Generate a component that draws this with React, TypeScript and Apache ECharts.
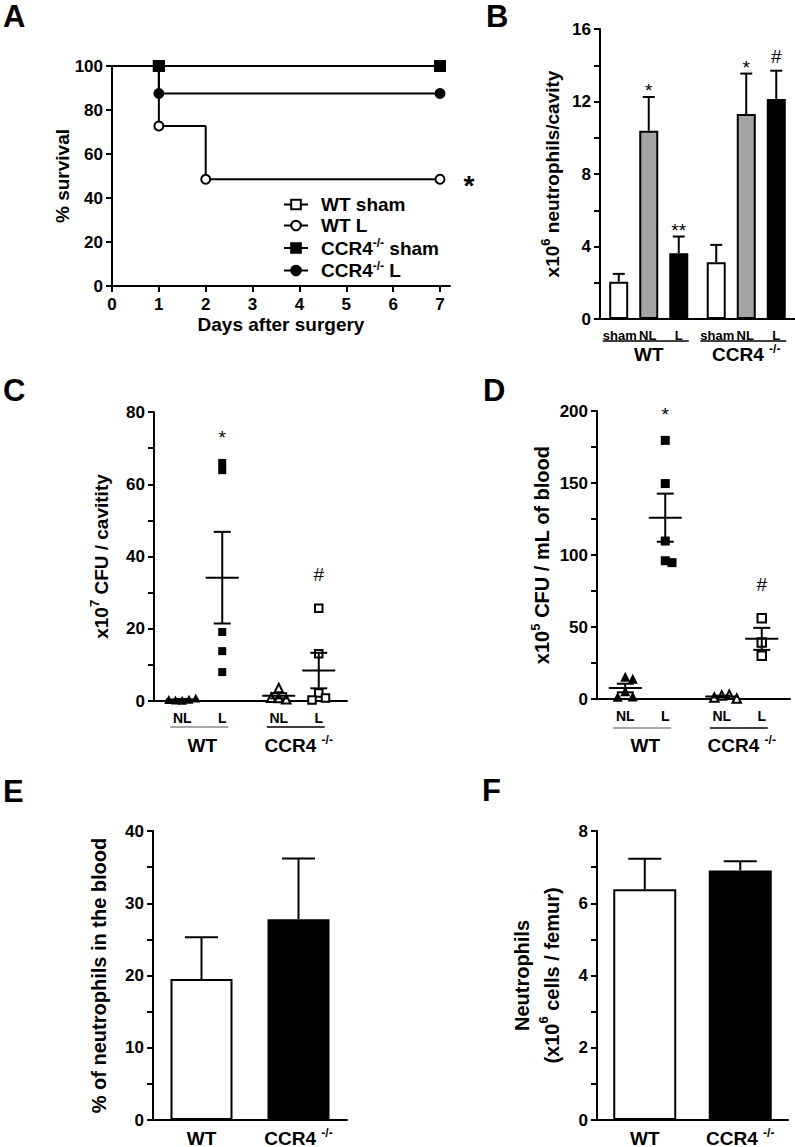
import React, { useEffect, useRef } from "react";
import * as echarts from "echarts";

const W = 795;
const H = 1147;
const FONT = '"Liberation Sans", Arial, Helvetica, sans-serif';

// ---------- Panel A: survival (Kaplan-Meier) ----------
const aWtShamDays = [0, 1, 7];
const aWtShamSurv = [100, 100, 100];
const aWtLDays = [0, 1, 2, 7];
const aWtLSurv = [100, 72.7, 48.5, 48.5];
const aKoShamDays = [0, 1, 7];
const aKoShamSurv = [100, 100, 100];
const aKoLDays = [0, 1, 7];
const aKoLSurv = [100, 87.5, 87.5];
const aDayTicks = [0, 1, 2, 3, 4, 5, 6, 7];

// ---------- Panel B: neutrophils / cavity (x10^6) ----------
const bGroups = ["WT", "CCR4"];
const bSubLabels = ["sham", "NL", "L"];
const bShamMean = [2.06, 3.13];
const bShamSem = [0.43, 0.96];
const bNLMean = [10.39, 11.31];
const bNLSem = [1.86, 2.23];
const bLMean = [3.63, 12.14];
const bLSem = [0.92, 1.56];
const bNLMarks = ["*", "*"];
const bLMarks = ["**", "#"];

// ---------- Panel C: CFU / cavity (x10^7) ----------
const cGroups = ["WT", "CCR4"];
const cWtNL = [0.2, 0.5, 0.3, 0.8, 0.4];
const cWtL = [65.9, 63.9, 19.1, 13.8, 8.0];
const cKoNL = [3.6, 0.8, 0.5, 0.9];
const cKoL = [25.7, 13.1, 2.2, 0.8, 0.3];
const cLMarks = ["*", "#"];

// ---------- Panel D: CFU / mL blood (x10^5) ----------
const dGroups = ["WT", "CCR4"];
const dWtNL = [15.5, 14.0, 5.3, 1.8, 1.5];
const dWtL = [179.6, 149.6, 109.7, 96.0, 94.7];
const dKoNL = [2.5, 3.0, 1.0, 0.3];
const dKoL = [56.1, 39.2, 30.0];
const dLMarks = ["*", "#"];

// ---------- Panel E: % neutrophils in blood ----------
const eGroups = ["WT", "CCR4"];
const eMean = [19.5, 27.8];
const eSem = [5.8, 8.4];

// ---------- Panel F: neutrophils / femur (x10^6) ----------
const fGroups = ["WT", "CCR4"];
const fMean = [6.39, 6.91];
const fSem = [0.84, 0.25];

// ---------- layout ----------
const GA = { left: 112, top: 66, width: 338, height: 220 };
const A_DAY7 = 328;
const GB = { left: 600, top: 29, width: 195, height: 290 };
const GC = { left: 154, top: 412, width: 193, height: 289 };
const GD = { left: 597, top: 411, width: 193, height: 288 };
const GE = { left: 153, top: 831, width: 194, height: 289 };
const GF = { left: 597, top: 831, width: 191, height: 289 };
const B_OFF = 30;
const DOT_OFF = 20;

const mean = (a: number[]) => a.reduce((s, v) => s + v, 0) / a.length;
const sem = (a: number[]) => {
  const m = mean(a);
  return Math.sqrt(a.reduce((s, v) => s + (v - m) * (v - m), 0) / (a.length - 1)) / Math.sqrt(a.length);
};
const catX = (g: any, i: number) => g.left + (g.width * (i + 0.5)) / 2;

const LS = { color: "#000", width: 2 };
const tickFont = { color: "#000", fontFamily: FONT, fontWeight: "bold", fontSize: 17 };
const titleRich = (fs: number) => ({
  t: { color: "#000", fontFamily: FONT, fontWeight: "bold", fontSize: fs, lineHeight: 26 },
  f: { color: "#000", fontFamily: FONT, fontWeight: "bold", fontSize: fs, lineHeight: 30 },
  s: { color: "#000", fontFamily: FONT, fontWeight: "bold", fontSize: 13, lineHeight: 14, verticalAlign: "top" },
});
const labelRich = {
  b: { color: "#000", fontFamily: FONT, fontWeight: "bold", fontSize: 19, lineHeight: 22 },
  s: { color: "#000", fontFamily: FONT, fontWeight: "bold", fontSize: 12, lineHeight: 12, verticalAlign: "top" },
};
const legendRich = {
  b: { color: "#000", fontFamily: FONT, fontWeight: "bold", fontSize: 19, lineHeight: 22 },
  s: { color: "#000", fontFamily: FONT, fontWeight: "bold", fontSize: 12, lineHeight: 12, verticalAlign: "top" },
};
const groupText = (g: string) => (g === "CCR4" ? "{b|CCR4 }{s|-/-}" : "{b|" + g + "}");

function swarm(values: number[], ppu: number, size: number): number[] {
  const placed: { x: number; y: number }[] = [];
  const step = size * 0.75;
  return values.map((v) => {
    const y = v * ppu;
    for (let k = 0; k < 30; k++) {
      const dx = k === 0 ? 0 : (k % 2 ? 1 : -1) * Math.ceil(k / 2) * step;
      if (placed.every((p) => Math.abs(p.y - y) >= size * 0.9 || Math.abs(p.x - dx) >= step * 0.99)) {
        placed.push({ x: dx, y });
        return dx;
      }
    }
    return 0;
  });
}

function markEl(mk: string, x: number, glyphBottom: number, fs: number) {
  const baseline = glyphBottom + (mk.indexOf("*") >= 0 ? 0.43 * fs : 0);
  const y = baseline - 0.3465 * fs;
  return {
    type: "text",
    x,
    y,
    style: {
      text: mk, fill: "#000", fontFamily: FONT, fontSize: fs, fontWeight: "normal",
      align: "center", verticalAlign: "middle", textAlign: "center", textVerticalAlign: "middle",
    },
  };
}

function valueY(gridIndex: number, max: number, interval: number, minor: boolean, name: string, nameGap: number, fs = 19) {
  return {
    type: "value", gridIndex, min: 0, max, interval,
    axisLine: { show: true, onZero: false, lineStyle: LS },
    axisTick: { show: true, inside: false, length: 6, lineStyle: LS },
    minorTick: { show: minor, splitNumber: 2, length: 6, lineStyle: LS },
    minorSplitLine: { show: false },
    splitLine: { show: false },
    axisLabel: { ...tickFont, margin: 9 },
    name, nameLocation: "middle", nameGap, nameRotate: 90, nameMoveOverlap: false,
    nameTextStyle: { color: "#000", fontFamily: FONT, fontWeight: "bold", fontSize: fs, rich: titleRich(fs) },
  };
}

function catAxis(gridIndex: number, data: string[], showLabel: boolean) {
  return {
    type: "category", gridIndex, data,
    axisLine: { show: true, onZero: false, lineStyle: LS },
    axisTick: { show: false },
    splitLine: { show: false },
    axisLabel: {
      show: showLabel, margin: 7, interval: 0,
      formatter: (v: string) => groupText(v),
      rich: labelRich,
    },
  };
}

function kmSeries(name: string, days: number[], surv: number[], symbol: string, filled: boolean, star?: string) {
  return {
    type: "line", name, xAxisIndex: 0, yAxisIndex: 0, step: "end", clip: false,
    symbol, symbolSize: symbol === "rect" ? 10 : 9, showAllSymbol: true,
    lineStyle: { color: "#000", width: 2 },
    itemStyle: { color: filled ? "#000" : "#fff", borderColor: "#000", borderWidth: 2 },
    emphasis: { disabled: true },
    data: days.map((d, i) => {
      const item: any = { value: [d, surv[i]] };
      if (i === 0) item.symbol = "none";
      if (star && i === days.length - 1) {
        item.label = {
          show: true, position: "right", distance: 18, formatter: star,
          fontSize: 28, fontWeight: "bold", fontFamily: FONT, color: "#000", offset: [0, 6],
        };
      }
      return item;
    }),
  };
}

function barSeries(xi: number, name: string, data: any[], fill: string, width: number, gap: string) {
  return {
    type: "bar", name, xAxisIndex: xi, yAxisIndex: xi, data, barWidth: width, barGap: gap,
    itemStyle: { color: fill, borderColor: "#000", borderWidth: 2 },
    emphasis: { disabled: true }, silent: true,
  };
}

function errSeries(xi: number, means: number[], sems: number[], offset: number, capW: number, marks?: string[]) {
  return {
    type: "custom", xAxisIndex: xi, yAxisIndex: xi, silent: true, z: 5, clip: false,
    data: means.map((m, i) => [i, m, sems[i]]),
    renderItem: (params: any, api: any) => {
      const i = api.value(0);
      const m = api.value(1);
      const s = api.value(2);
      const x = api.coord([i, m])[0] + offset;
      const y0 = api.coord([i, m])[1];
      const y1 = api.coord([i, m + s])[1];
      const st = { stroke: "#000", lineWidth: 2 };
      const children: any[] = [
        { type: "line", shape: { x1: x, y1: y0, x2: x, y2: y1 }, style: st },
        { type: "line", shape: { x1: x - capW / 2, y1: y1, x2: x + capW / 2, y2: y1 }, style: st },
      ];
      const mk = marks && marks[params.dataIndex];
      if (mk) children.push(markEl(mk, x, y1 - 8, 19));
      return { type: "group", children };
    },
  };
}

function dotSeries(xi: number, cat: number, values: number[], offset: number, symbol: string, filled: boolean, size: number, ppu: number) {
  const dx = swarm(values, ppu, size);
  return {
    type: "scatter", xAxisIndex: xi, yAxisIndex: xi, clip: false, z: 3, silent: true,
    symbol, symbolSize: filled ? size : size - 1.5,
    itemStyle: { color: filled ? "#000" : "#fff", borderColor: "#000", borderWidth: filled ? 0 : 2, opacity: 1 },
    emphasis: { disabled: true },
    data: values.map((v, k) => ({ value: [cat, v], symbolOffset: [offset + dx[k], 0] })),
  };
}

function meanSemSeries(xi: number, groups: number[][], offset: number, marks?: string[]) {
  return {
    type: "custom", xAxisIndex: xi, yAxisIndex: xi, silent: true, z: 6, clip: false,
    data: groups.map((g, cat) => [cat, mean(g), sem(g), Math.max(...g)]),
    renderItem: (params: any, api: any) => {
      const cat = api.value(0);
      const m = api.value(1);
      const s = api.value(2);
      const mx = api.value(3);
      const x = api.coord([cat, m])[0] + offset;
      const ym = api.coord([cat, m])[1];
      const yu = api.coord([cat, m + s])[1];
      const yl = api.coord([cat, m - s])[1];
      const st = { stroke: "#000", lineWidth: 2 };
      const children: any[] = [
        { type: "line", shape: { x1: x - 16.5, y1: ym, x2: x + 16.5, y2: ym }, style: st },
        { type: "line", shape: { x1: x, y1: yu, x2: x, y2: yl }, style: st },
        { type: "line", shape: { x1: x - 8.5, y1: yu, x2: x + 8.5, y2: yu }, style: st },
        { type: "line", shape: { x1: x - 8.5, y1: yl, x2: x + 8.5, y2: yl }, style: st },
      ];
      const mk = marks && marks[params.dataIndex];
      if (mk) children.push(markEl(mk, x, api.coord([cat, mx])[1] - 27, 19));
      return { type: "group", children };
    },
  };
}

function gtext(text: string, x: number, y: number, fs: number, align = "center", rich?: any) {
  const style: any = {
    text, fill: "#000", fontFamily: FONT, fontWeight: "bold", fontSize: fs,
    align, verticalAlign: "middle", textAlign: align, textVerticalAlign: "middle",
  };
  if (rich) style.rich = rich;
  return { type: "text", x, y, silent: true, style };
}

function gline(x1: number, x2: number, y: number, color: string) {
  return { type: "line", silent: true, shape: { x1, y1: y, x2, y2: y }, style: { stroke: color, lineWidth: 1.6 } };
}

function buildOption() {
  const grids = [GA, GB, GC, GD, GE, GF].map((g) => ({ ...g, containLabel: false, outerBoundsMode: "none" }));

  const xAxes: any[] = [
    {
      type: "value", gridIndex: 0, min: 0, max: (7 * GA.width) / A_DAY7,
      axisLine: { show: true, onZero: false, lineStyle: LS },
      axisTick: { show: true, length: 6, lineStyle: LS, customValues: aDayTicks },
      splitLine: { show: false },
      axisLabel: {
        ...tickFont, margin: 10, customValues: aDayTicks,
        formatter: (v: number) => (Math.abs(v - Math.round(v)) < 1e-6 ? String(Math.round(v)) : ""),
      },
      name: "Days after surgery", nameLocation: "middle", nameGap: 29, nameMoveOverlap: false,
      nameTextStyle: { color: "#000", fontFamily: FONT, fontWeight: "bold", fontSize: 19 },
    },
    catAxis(1, bGroups, false),
    catAxis(2, cGroups, false),
    catAxis(3, dGroups, false),
    catAxis(4, eGroups, true),
    catAxis(5, fGroups, true),
  ];

  const yAxes: any[] = [
    valueY(0, 100, 20, false, "% survival", 40),
    valueY(1, 16, 4, true, "{t|x10}{s|6}{t| neutrophils/cavity}", 35),
    valueY(2, 80, 20, true, "{t|x10}{s|7}{t| CFU / cavitity}", 40),
    valueY(3, 200, 50, true, "{t|x10}{s|5}{t| CFU / mL of blood}", 42, 20),
    valueY(4, 40, 10, true, "% of neutrophils in the blood", 44, 20),
    valueY(5, 8, 2, true, "{f|Neutrophils}\n{f|(x10}{s|6}{f| cells / femur)}", 30, 20),
  ];

  const ppuC = GC.height / 80;
  const ppuD = GD.height / 200;

  const series: any[] = [
    kmSeries("WT sham", aWtShamDays, aWtShamSurv, "rect", false),
    kmSeries("WT L", aWtLDays, aWtLSurv, "circle", false, "*"),
    kmSeries("CCR4 sham", aKoShamDays, aKoShamSurv, "rect", true),
    kmSeries("CCR4 L", aKoLDays, aKoLSurv, "circle", true),

    barSeries(1, "B sham", bShamMean, "#ffffff", 19, "58%"),
    barSeries(1, "B NL", bNLMean, "#a4a4a6", 19, "58%"),
    barSeries(1, "B L", bLMean, "#000000", 19, "58%"),
    errSeries(1, bShamMean, bShamSem, -B_OFF, 12),
    errSeries(1, bNLMean, bNLSem, 0, 12, bNLMarks),
    errSeries(1, bLMean, bLSem, B_OFF, 12, bLMarks),

    dotSeries(2, 0, cWtNL, -DOT_OFF, "triangle", true, 9, ppuC),
    dotSeries(2, 0, cWtL, DOT_OFF, "rect", true, 8, ppuC),
    dotSeries(2, 1, cKoNL, -DOT_OFF, "triangle", false, 10, ppuC),
    dotSeries(2, 1, cKoL, DOT_OFF, "rect", false, 9, ppuC),
    meanSemSeries(2, [cWtNL, cKoNL], -DOT_OFF),
    meanSemSeries(2, [cWtL, cKoL], DOT_OFF, cLMarks),

    dotSeries(3, 0, dWtNL, -DOT_OFF, "triangle", true, 10, ppuD),
    dotSeries(3, 0, dWtL, DOT_OFF, "rect", true, 9, ppuD),
    dotSeries(3, 1, dKoNL, -DOT_OFF, "triangle", false, 10, ppuD),
    dotSeries(3, 1, dKoL, DOT_OFF, "rect", false, 10, ppuD),
    meanSemSeries(3, [dWtNL, dKoNL], -DOT_OFF),
    meanSemSeries(3, [dWtL, dKoL], DOT_OFF, dLMarks),

    barSeries(4, "E", eMean.map((v, i) => ({ value: v, itemStyle: { color: i === 0 ? "#fff" : "#000" } })), "#fff", 62, "0%"),
    errSeries(4, eMean, eSem, 0, 33),
    barSeries(5, "F", fMean.map((v, i) => ({ value: v, itemStyle: { color: i === 0 ? "#fff" : "#000" } })), "#fff", 63, "0%"),
    errSeries(5, fMean, fSem, 0, 33),
  ];

  const graphic: any[] = [];
  [["A", 3, 16], ["B", 486, 16], ["C", 3, 390], ["D", 483, 390], ["E", 3, 791], ["F", 482, 790]].forEach(
    ([t, x, y]) => graphic.push(gtext(t as string, x as number, y as number, 31, "left"))
  );

  // Panel B category labels (sub-labels sit under their bars)
  const bSubShift = [1, -1, 0];
  bGroups.forEach((g, i) => {
    const cx = catX(GB, i);
    bSubLabels.forEach((s, k) => graphic.push(gtext(s, cx + (k - 1) * B_OFF + bSubShift[k], 335, 13)));
    graphic.push(gline(cx - B_OFF - 16, cx + B_OFF + 10, 341, "#000"));
    graphic.push(gtext(groupText(g), cx, 354, 19, "center", labelRich));
  });

  // Panels C and D category labels
  [[GC, cGroups, 718, 727], [GD, dGroups, 716, 728]].forEach(([g, groups, ySub, yLine]: any) => {
    groups.forEach((grp: string, i: number) => {
      const cx = catX(g, i);
      graphic.push(gtext("NL", cx - DOT_OFF, ySub, 14));
      graphic.push(gtext("L", cx + DOT_OFF, ySub, 14));
      graphic.push(gline(cx - DOT_OFF - 12, cx + DOT_OFF + 6, yLine, i === 0 ? "#8a8a8a" : "#000"));
      graphic.push(gtext(groupText(grp), cx, 745, 19, "center", labelRich));
    });
  });

  return {
    animation: false,
    backgroundColor: "#ffffff",
    textStyle: { fontFamily: FONT },
    grid: grids,
    xAxis: xAxes,
    yAxis: yAxes,
    legend: {
      show: true, orient: "vertical", left: 278, top: 190, itemWidth: 24, itemHeight: 12, itemGap: 2,
      selectedMode: false,
      data: ["WT sham", "WT L", "CCR4 sham", "CCR4 L"],
      formatter: (n: string) => (n.indexOf("CCR4") === 0 ? "{b|CCR4}{s|-/-}{b|" + n.slice(4) + "}" : "{b|" + n + "}"),
      textStyle: { padding: [0, 0, 0, 8], rich: legendRich },
    },
    series,
    graphic,
  };
}

export default function App() {
  const ref = useRef<HTMLDivElement>(null);
  useEffect(() => {
    if (!ref.current) return;
    const chart = echarts.init(ref.current, null, { renderer: "svg", width: W, height: H });
    chart.setOption(buildOption() as any);
    return () => chart.dispose();
  }, []);
  return (
    <div
      ref={ref}
      style={{ position: "absolute", left: 0, top: 0, width: W, height: H, background: "#fff" }}
    />
  );
}
